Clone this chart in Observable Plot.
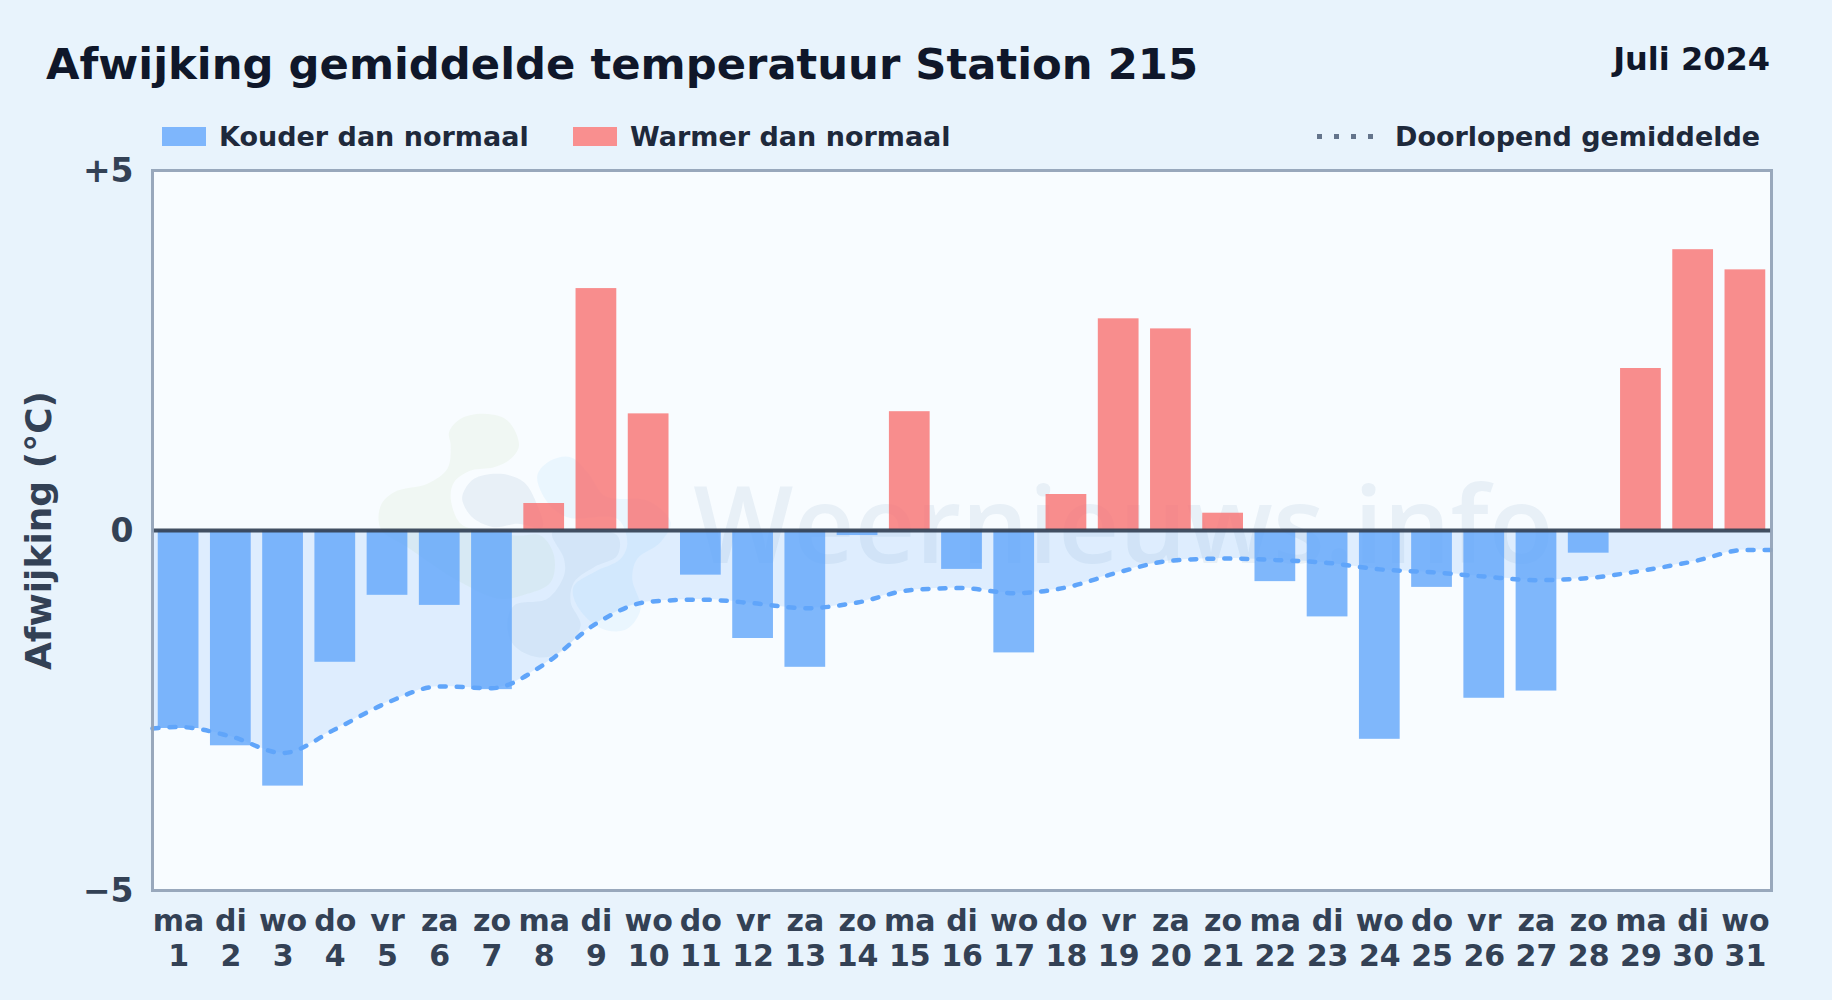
<!DOCTYPE html>
<html lang="nl">
<head>
<meta charset="utf-8">
<script src="https://cdn.jsdelivr.net/npm/d3@7"></script>
<script src="https://cdn.jsdelivr.net/npm/@observablehq/plot@0.6"></script>
<style>
html,body{margin:0;padding:0;background:#e8f3fc;width:1832px;height:1000px;overflow:hidden;font-family:"DejaVu Sans",sans-serif;font-weight:700}
#head{position:relative;height:150px;width:1832px}
#head div{position:absolute;line-height:1;white-space:nowrap}
#title{left:46px;top:43px;font-size:43.3px;color:#0f172a}
#month{right:62px;top:43px;font-size:32px;color:#0f172a}
.lg{top:123px;font-size:27px;color:#1e293b}
.sw{top:127px;width:44px;height:19px}
#dots{left:1317px;top:134px;width:56px;height:5px;background:repeating-linear-gradient(90deg,#64748b 0 5px,transparent 5px 17px)}
#chart{position:absolute;left:0;top:150px}
#chart svg{display:block;background:transparent}
</style>
</head>
<body>
<div id="head">
  <div id="title">Afwijking gemiddelde temperatuur Station 215</div>
  <div id="month">Juli 2024</div>
  <div class="sw" style="left:162px;background:#7eb6fc"></div>
  <div class="lg" style="left:219px">Kouder dan normaal</div>
  <div class="sw" style="left:573px;background:#f98f8f"></div>
  <div class="lg" style="left:630px">Warmer dan normaal</div>
  <div id="dots"></div>
  <div class="lg" style="left:1395px">Doorlopend gemiddelde</div>
</div>
<div id="chart"></div>
<script>
const days = d3.range(1, 32);
const weekdays = ["ma","di","wo","do","vr","za","zo","ma","di","wo","do","vr","za","zo","ma","di","wo","do","vr","za","zo","ma","di","wo","do","vr","za","zo","ma","di","wo"];
const anomaly = [-2.75,-2.99,-3.55,-1.83,-0.90,-1.04,-2.21,0.375,3.36,1.62,-0.62,-1.50,-1.90,-0.07,1.65,-0.54,-1.70,0.50,2.94,2.80,0.24,-0.71,-1.20,-2.90,-0.79,-2.33,-2.23,-0.315,2.25,3.90,3.62];
const meanDays = [0.5,...days,31.5];
const runningMean = [-2.75,-2.73,-2.86,-3.09,-2.76,-2.39,-2.165,-2.19,-1.86,-1.29,-0.99,-0.96,-1.01,-1.08,-1.00,-0.83,-0.80,-0.87,-0.79,-0.58,-0.42,-0.39,-0.41,-0.45,-0.54,-0.58,-0.64,-0.69,-0.66,-0.56,-0.43,-0.27,-0.27];
const yTicks = [-5,0,5];
const yTickLabels = {"-5":"\u22125","0":"0","5":"+5"};

// Faint watermark logo: outlines traced in page pixels, converted to chart units
const dayOf = px => 1 + (px - 177.7) / 52.26;
const degOf = py => (530 - py) / 72;
const trace = z => z.map(([a,b]) => [dayOf(360 + a/3), degOf(395 + b/3)]);
const logoGreen = trace([[265,110],[300,70],[370,55],[440,75],[475,150],[450,190],[400,215],[330,225],[280,260],[270,310],[300,385],[360,405],[470,420],[540,420],[580,480],[570,560],[500,595],[420,610],[300,560],[140,455],[60,400],[60,330],[100,290],[200,265],[260,220],[270,150]]);
const logoSlate = trace([[305,300],[340,250],[420,235],[490,260],[530,330],[545,395],[470,385],[400,395],[340,370],[310,330]]);
const logoSlate2 = trace([[460,630],[560,610],[610,540],[610,490],[575,410],[770,420],[770,480],[700,515],[640,560],[630,620],[660,690],[600,770],[530,785],[460,750],[440,690]]);
const logoSky = trace([[530,240],[570,195],[630,185],[680,230],[730,300],[770,310],[860,315],[930,380],[900,440],[830,490],[815,550],[840,640],[800,700],[740,705],[680,670],[640,610],[640,570],[700,530],[780,490],[800,440],[770,370],[620,365],[560,320]]);
const logoShapes = [[logoGreen,"#8fbf4f",0.07],[logoSlate,"#1e4e8c",0.07],[logoSlate2,"#1e4e8c",0.06],[logoSky,"#38a8f5",0.07]];

const rows = days.map((d,i) => ({day:d, value:anomaly[i]}));
const meanRows = meanDays.map((d,i) => ({day:d, value:runningMean[i]}));
const barHalf = 0.39;
const barColor = v => v < 0 ? "#60a5fa" : "#f87171";

const chart = Plot.plot({
  width: 1832, height: 850,
  marginLeft: 152, marginRight: 61, marginTop: 20, marginBottom: 110,
  style: {background:"transparent", fontFamily:"'DejaVu Sans',sans-serif", fontWeight:700, overflow:"visible"},
  x: {type:"linear", domain:[0.5,31.5], label:null},
  y: {domain:[-5,5], label:null},
  marks: [
    Plot.frame({fill:"#f8fcff", stroke:"none"}),
    ...logoShapes.map(([pts,col,op]) => Plot.line(pts,{x:d=>d[0],y:d=>d[1],curve:"catmull-rom-closed",fill:col,fillOpacity:op,stroke:"none"})),
    Plot.text(["Weernieuws.info"],{x:[19.09],y:[0.02],text:d=>d,fontSize:106,fontWeight:600,fontFamily:"'Open Sans',sans-serif",fill:"#1e4e8c",fillOpacity:0.07}),
    Plot.areaY(meanRows,{x:"day",y1:0,y2:"value",curve:"monotone-x",fill:"#60a5fa",fillOpacity:0.17}),
    Plot.rectY(rows,{x1:d=>d.day-barHalf,x2:d=>d.day+barHalf,y1:0,y2:"value",fill:d=>barColor(d.value),fillOpacity:0.8}),
    Plot.ruleY([0],{stroke:"#334155",strokeWidth:4,strokeOpacity:0.92}),
    Plot.line(meanRows,{x:"day",y:"value",curve:"monotone-x",stroke:"#60a5fa",strokeWidth:4.5,strokeDasharray:"6 11",strokeLinecap:"round"}),
    Plot.frame({stroke:"#94a3b8",strokeWidth:3,strokeOpacity:0.95}),
    Plot.axisY({ticks:yTicks,tickFormat:d=>yTickLabels[d],tickSize:0,tickPadding:19,dy:1,fontSize:33,fill:"#334155",label:null}),
    Plot.axisX({ticks:days,tickFormat:d=>weekdays[d-1]+"\n"+d,tickSize:0,tickPadding:16,fontSize:30,lineHeight:1.16,fill:"#334155",label:null}),
    Plot.text(["Afwijking (\u00b0C)"],{frameAnchor:"left",textAnchor:"middle",dx:-113,rotate:-90,fontSize:36,fill:"#334155"})
  ]
});
document.getElementById("chart").appendChild(chart);
</script>
</body>
</html>
